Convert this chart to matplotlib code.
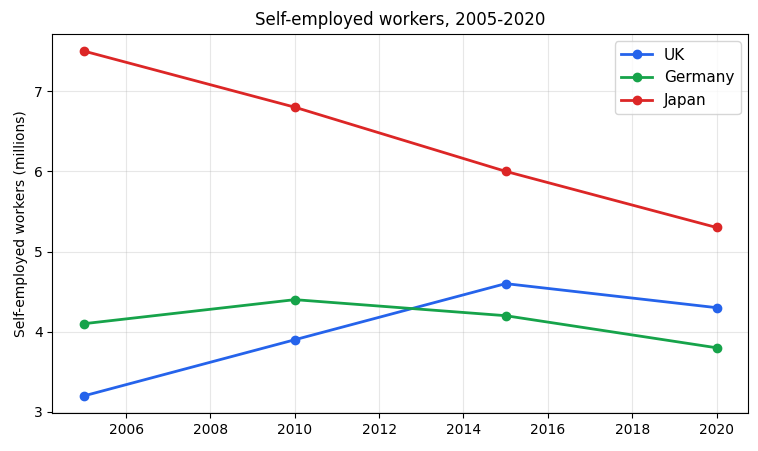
import matplotlib
matplotlib.use("Agg")
import matplotlib.pyplot as plt

years = [2005, 2010, 2015, 2020]
uk = [3.2, 3.9, 4.6, 4.3]
germany = [4.1, 4.4, 4.2, 3.8]
japan = [7.5, 6.8, 6.0, 5.3]

fig, ax = plt.subplots(figsize=(7.58, 4.51), dpi=100)
ax.plot(years, uk, marker='o', color='#2563eb', linewidth=2, label='UK')
ax.plot(years, germany, marker='o', color='#16a34a', linewidth=2, label='Germany')
ax.plot(years, japan, marker='o', color='#dc2626', linewidth=2, label='Japan')

ax.set_title('Self-employed workers, 2005-2020')
ax.set_ylabel('Self-employed workers (millions)')
ax.grid(True, alpha=0.3)
ax.legend(loc='upper right', fontsize=11)

plt.subplots_adjust(left=0.069, right=0.987, top=0.925, bottom=0.084)
plt.savefig('out.png', dpi=100)
